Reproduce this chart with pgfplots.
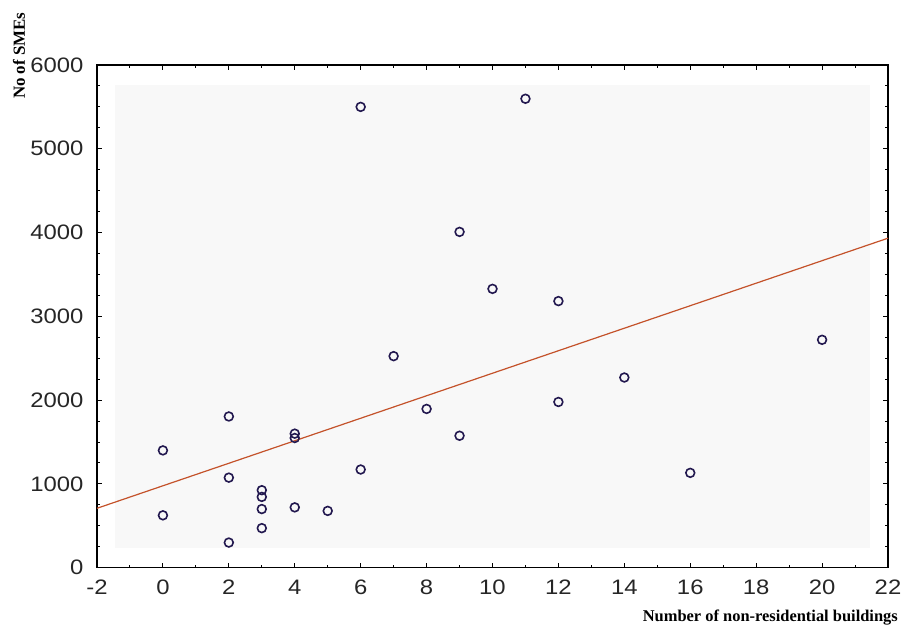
\documentclass[border=0pt]{standalone}
\usepackage{fontspec}
\setmainfont{Liberation Serif}
\setsansfont{Liberation Sans}
\newfontfamily\tickfont[FakeStretch=1.14]{Liberation Sans}
\usepackage{pgfplots}
\pgfplotsset{compat=1.18}
\definecolor{mk}{HTML}{22184F}
\definecolor{fit}{HTML}{C4522A}
\definecolor{bgg}{HTML}{F8F8F8}
\begin{document}
\begin{tikzpicture}
\useasboundingbox (-97bp,-57.3bp) rectangle (804bp,567.7bp);
\begin{axis}[
  at={(0,0)}, anchor=south west,
  scale only axis,
  width=791bp, height=502.7bp,
  xmin=-2, xmax=22, ymin=0, ymax=6000,
  xtick={-2,0,...,22}, ytick={0,1000,...,6000},
  minor x tick num=1, minor y tick num=3,
  tick align=inside,
  major tick length=5bp, minor tick length=3bp,
  tick style={black, line width=1pt},
  axis line style={black, line width=1.5bp},
  /pgf/number format/assume math mode=true,
  /pgf/number format/1000 sep={},
  ticklabel style={font=\tickfont\fontsize{21}{21}\selectfont, text=black!85},
  xticklabel style={yshift=-9bp},
  yticklabel style={xshift=-10bp},
  clip=false,
]
\fill[bgg] (axis cs:-1.45,235) rectangle (axis cs:21.45,5761);
\addplot[fit, line width=1.2bp, no marks] coordinates {(-2,709) (22,3933)};
\addplot[only marks, mark=o, mark size=4.4bp, mark options={draw=mk, line width=1.6bp}] coordinates {
(0,1400) (0,625) (2,1805) (2,1075) (2,300)
(3,925) (3,845) (3,700) (3,472)
(4,1600) (4,1548) (4,720) (5,678)
(6,1172) (6,5500) (7,2525) (8,1895)
(9,4008) (9,1575) (10,3328) (11,5597)
(12,3182) (12,1978) (14,2270) (16,1132) (20,2720)
};
\end{axis}
\node[anchor=east, font=\bfseries\fontsize{16.5}{16.5}\selectfont, inner sep=0pt] at (801bp,-50bp) {Number of non-residential buildings};
\node[rotate=90, font=\bfseries\fontsize{17}{17}\selectfont, inner sep=0pt] at (-78bp,512bp) {No of SMEs};
\end{tikzpicture}
\end{document}
